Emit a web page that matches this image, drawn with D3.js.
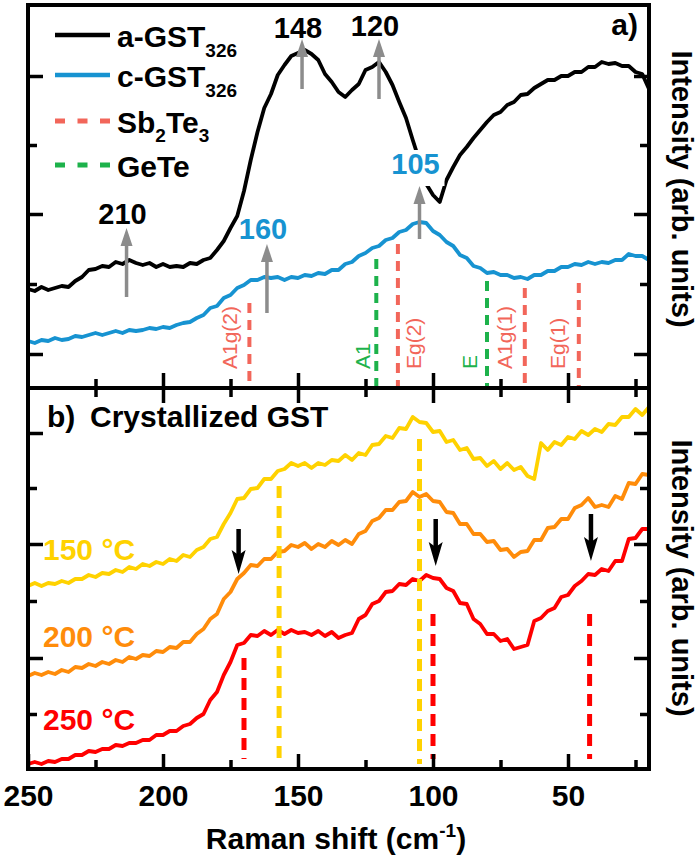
<!DOCTYPE html>
<html><head><meta charset="utf-8">
<script src="https://cdnjs.cloudflare.com/ajax/libs/d3/7.8.5/d3.min.js"></script>
<style>
body{margin:0;background:#fff;}
text{font-family:"Liberation Sans",Arial,sans-serif;}
</style>
</head><body>
<svg id="chart" width="700" height="859"></svg>
<script>
// ---------- DATA ----------
const ramanShift = [250,247.5,245,242.5,240,237.5,235,232.5,230,227.5,225,222.5,220,217.5,215,212.5,210,207.5,205,202.5,
200,197.5,195,192.5,190,187.5,185,182.5,180,177.5,175,172.5,170,167.5,165,162.5,160,157.5,155,152.5,
150,147.5,145,142.5,140,137.5,135,132.5,130,127.5,125,122.5,120,117.5,115,112.5,110,107.5,105,102.5,
100,97.5,95,92.5,90,87.5,85,82.5,80,77.5,75,72.5,70,67.5,65,62.5,60,57.5,55,52.5,
50,47.5,45,42.5,40,37.5,35,32.5,30,27.5,25,22.5,20];

// panel a (arb. units)
const aGST = [99,97,101,98,100,102,101,107,111,118,
119,122,121,126,124,128,125,123,125,121,
124,121,122,121,125,124,128,130,138,147,
160,172,197,228,256,280,294,313,323,332,
335,338,334,328,314,306,296,291,298,304,
318,321,326,316,303,286,270,248,227,204,
193,186,208,221,233,241,250,258,266,273,
276,283,286,293,294,300,304,308,308,312,
312,316,316,321,321,326,324,325,322,322,
316,314,299];
const cGST = [47,45,48,47,50,48,49,52,51,53,
55,53,55,57,55,58,57,58,60,59,
61,60,63,65,66,70,73,80,82,90,
93,100,103,108,108,111,110,111,108,111,
110,113,112,115,114,118,118,124,126,132,
135,140,142,148,150,156,158,164,166,165,
157,153,146,142,133,130,122,120,115,116,
113,113,110,111,109,113,113,117,117,121,
121,124,123,126,124,126,125,128,128,134,
132,132,128];

// panel b (arb. units)
const t150 = [183,186,183,186,185,188,186,190,190,194,
192,196,195,199,197,202,200,205,203,207,
205,210,208,214,212,219,222,230,232,245,
256,270,271,280,281,290,290,298,300,306,
303,306,301,306,304,309,308,314,309,316,
314,324,325,333,331,341,340,352,347,346,
337,338,327,329,319,321,310,311,303,308,
300,306,299,302,293,290,326,319,327,324,
332,330,338,334,340,337,345,344,352,352,
360,354,362];
const t200 = [93,96,94,97,95,99,97,102,101,105,
103,107,105,109,107,112,110,114,113,118,
117,122,121,127,127,135,140,150,155,170,
177,190,196,204,203,210,210,217,218,224,
222,226,220,225,222,228,224,229,225,235,
238,248,251,259,259,267,268,277,272,275,
268,267,257,256,245,245,235,235,227,228,
219,220,212,217,218,229,229,241,242,250,
250,261,264,271,262,264,262,273,270,286,
285,295,294];
const t250 = [5,7,5,8,7,10,10,14,14,18,
17,20,20,24,23,26,26,29,29,34,
34,38,38,43,45,51,55,69,77,94,
107,124,126,134,133,138,134,139,135,139,
136,137,134,138,133,137,131,134,136,150,
154,165,168,177,178,185,184,190,188,194,
191,190,181,178,166,165,150,145,135,135,
128,130,120,122,124,148,151,158,161,172,
174,183,188,195,194,200,198,208,208,230,
231,240,240];

const xMajorTicks = [250,200,150,100,50];
const xMinorTicks = [225,175,125,75,25];
const yATicksMajor = [34,174,312];
const yATicksMinor = [104,243];
const yBTicksMajor = [111,225,336];
const yBTicksMinor = [55,168,281];

// annotations panel a
const peakLabelsA = [
  {label:"148", shift:148.5, base:299, tip:349, textAt:350, color:"black"},
  {label:"120", shift:120,   base:289, tip:349, textAt:352, color:"black"},
  {label:"210", shift:213.5, base:91,  tip:160, textAt:164, color:"black"},
  {label:"160", shift:161.5, base:75,  tip:144, textAt:149, color:"blue"},
  {label:"105", shift:105,   base:149, tip:202, textAt:214, color:"blue"}
];
const modesA = [
  {label:"A1g(2)", shift:168, top:85,  phase:"Sb2Te3", labelShift:172.5},
  {label:"A1",     shift:121, top:129, phase:"GeTe",   labelShift:123.5},
  {label:"Eg(2)",  shift:113, top:144, phase:"Sb2Te3", labelShift:104.3},
  {label:"E",      shift:80,  top:107, phase:"GeTe",   labelShift:83.8},
  {label:"A1g(1)", shift:66,  top:100, phase:"Sb2Te3", labelShift:70.9},
  {label:"Eg(1)",  shift:46,  top:105, phase:"Sb2Te3", labelShift:51.2}
];
// annotations panel b
const modesB = [
  {shift:170, top:111, bottom:10, series:"250"},
  {shift:157, top:283, bottom:5,  series:"150"},
  {shift:105, top:330, bottom:5,  series:"150"},
  {shift:100, top:155, bottom:10, series:"250"},
  {shift:42,  top:155, bottom:10, series:"250"}
];
const arrowsB = [
  {shift:172, base:240, tip:195},
  {shift:99,  base:250, tip:203},
  {shift:41.5,base:255, tip:208}
];
const tempLabels = ["150 °C","200 °C","250 °C"];

// ---------- STYLE ----------
const C = {black:"#000", blue:"#1793d1", red:"#f2665a", green:"#1db24b",
  gray:"#8c8c8c", y150:"#ffd200", y200:"#ff8c0a", y250:"#ff0000"};

const svg = d3.select("#chart");
const L=28, R=649, TOP=5, MID=388, BOT=769;
const x = d3.scaleLinear().domain([250,20]).range([L,R]);
const yA = d3.scaleLinear().domain([0,383]).range([MID,TOP]);
const yB = d3.scaleLinear().domain([0,381]).range([BOT,MID]);

const line = (ys) => d3.line().x((d,i)=>x(ramanShift[i])).y(d=>ys(d));

// ---------- PANEL A ----------
const gA = svg.append("g");
gA.append("path").datum(cGST).attr("d",line(yA)).attr("fill","none")
  .attr("stroke",C.blue).attr("stroke-width",3.8).attr("stroke-linejoin","round");
gA.append("path").datum(aGST).attr("d",line(yA)).attr("fill","none")
  .attr("stroke",C.black).attr("stroke-width",3.8).attr("stroke-linejoin","round");

modesA.forEach(m=>{
  const col = m.phase==="GeTe"?C.green:C.red;
  gA.append("line").attr("x1",x(m.shift)).attr("x2",x(m.shift))
    .attr("y1",yA(m.top)).attr("y2",yA(0)).attr("stroke",col)
    .attr("stroke-width",4).attr("stroke-dasharray","10,7");
  gA.append("text").attr("transform",`translate(${x(m.labelShift)},${yA(19)}) rotate(-90)`)
    .attr("fill",col).attr("font-size",21).text(m.label);
});

function arrow(g, xp, yBase, yTip, col, headLen, headW, shaftW, notch){
  const dir = yTip < yBase ? -1 : 1;
  g.append("line").attr("x1",xp).attr("x2",xp).attr("y1",yBase)
    .attr("y2",yTip - dir*headLen*0.7).attr("stroke",col).attr("stroke-width",shaftW);
  const yb = yTip - dir*headLen;
  g.append("path").attr("d",
    `M${xp},${yTip} L${xp-headW/2},${yb} L${xp},${yb+dir*notch} L${xp+headW/2},${yb} Z`)
    .attr("fill",col);
}

peakLabelsA.forEach(p=>{
  const col = p.color==="blue"?C.blue:C.black;
  if(p.label==="105"){
    gA.append("rect").attr("x",x(p.shift)-31).attr("y",yA(p.textAt)-24)
      .attr("width",56).attr("height",36).attr("fill","#fff");
  }
  arrow(gA, x(p.shift), yA(p.base), yA(p.tip), C.gray, 18, 12, 3.5, 0);
  gA.append("text").attr("x",x(p.shift)-4).attr("y",yA(p.textAt))
    .attr("text-anchor","middle").attr("font-size",29).attr("font-weight","bold")
    .attr("fill",col).text(p.label);
});

gA.append("text").attr("x",638).attr("y",35).attr("text-anchor","end")
  .attr("font-size",30).attr("font-weight","bold").text("a)");

// legend
const leg = [
  {name:"a-GST", sub:"326", col:C.black, dash:null, y:35},
  {name:"c-GST", sub:"326", col:C.blue, dash:null, y:75},
  {name:"Sb2Te3", sub:null, col:C.red, dash:"10,12.5", y:121},
  {name:"GeTe", sub:null, col:C.green, dash:"10,12.5", y:165}
];
leg.forEach(l=>{
  gA.append("line").attr("x1",55).attr("x2",110).attr("y1",l.y).attr("y2",l.y)
    .attr("stroke",l.col).attr("stroke-width",l.dash?5:4.5)
    .attr("stroke-dasharray",l.dash);
  const t = gA.append("text").attr("x",117).attr("y",l.y+12)
    .attr("font-size",30).attr("font-weight","bold").attr("fill","#000");
  if(l.name==="Sb2Te3"){
    t.append("tspan").text("Sb");
    t.append("tspan").attr("font-size",19).attr("dy",9).text("2");
    t.append("tspan").attr("dy",-9).text("Te");
    t.append("tspan").attr("font-size",19).attr("dy",9).text("3");
  } else {
    t.append("tspan").text(l.name);
    if(l.sub) t.append("tspan").attr("font-size",19).attr("dy",10).text(l.sub);
  }
});

// ---------- PANEL B ----------
const gB = svg.append("g");
const seriesB = [{d:t150,c:C.y150},{d:t200,c:C.y200},{d:t250,c:C.y250}];
seriesB.forEach(s=>{
  gB.append("path").datum(s.d).attr("d",line(yB)).attr("fill","none")
    .attr("stroke",s.c).attr("stroke-width",3.8).attr("stroke-linejoin","round");
});
modesB.forEach(m=>{
  gB.append("line").attr("x1",x(m.shift)).attr("x2",x(m.shift))
    .attr("y1",yB(m.top)).attr("y2",yB(m.bottom))
    .attr("stroke",m.series==="150"?C.y150:C.y250).attr("stroke-width",5)
    .attr("stroke-dasharray","12,8");
});
arrowsB.forEach(a=>{
  arrow(gB, x(a.shift), yB(a.base), yB(a.tip), "#000", 24, 14, 4.5, 5);
});
const tempCols=[C.y150,C.y200,C.y250];
const tempY=[560,647,730];
tempLabels.forEach((t,i)=>{
  gB.append("text").attr("x",43).attr("y",tempY[i]).attr("font-size",30)
    .attr("font-weight","bold").attr("fill",tempCols[i]).text(t);
});
gB.append("text").attr("x",47).attr("y",427).attr("font-size",30)
  .attr("font-weight","bold").text("b)");
gB.append("text").attr("x",90).attr("y",427).attr("font-size",30)
  .attr("font-weight","bold").text("Crystallized GST");

// ---------- AXES ----------
function styleAxis(g){
  g.select(".domain").remove();
  g.selectAll(".tick line").attr("stroke","#000").attr("stroke-width",3.5);
  g.selectAll("text").attr("font-size",30).attr("font-weight","bold")
    .attr("font-family","Liberation Sans, Arial, sans-serif").attr("fill","#000");
}
// bottom x-axis of panel b
svg.append("g").attr("transform",`translate(0,${BOT})`)
  .call(d3.axisBottom(x).tickValues(xMajorTicks).tickSize(-15).tickPadding(16).tickFormat(d3.format("d")))
  .call(styleAxis);
svg.append("g").attr("transform",`translate(0,${BOT})`)
  .call(d3.axisBottom(x).tickValues(xMinorTicks).tickSize(-9).tickFormat(""))
  .call(styleAxis);
// panel a bottom (ticks up) and panel b top (ticks down)
svg.append("g").attr("transform",`translate(0,${MID})`)
  .call(d3.axisBottom(x).tickValues(xMajorTicks.slice(1)).tickSize(-15).tickFormat(""))
  .call(styleAxis);
svg.append("g").attr("transform",`translate(0,${MID})`)
  .call(d3.axisBottom(x).tickValues(xMinorTicks).tickSize(-9).tickFormat(""))
  .call(styleAxis);
svg.append("g").attr("transform",`translate(0,${MID})`)
  .call(d3.axisTop(x).tickValues(xMajorTicks.slice(1)).tickSize(-15).tickFormat(""))
  .call(styleAxis);
svg.append("g").attr("transform",`translate(0,${MID})`)
  .call(d3.axisTop(x).tickValues(xMinorTicks).tickSize(-9).tickFormat(""))
  .call(styleAxis);
// y ticks
[[yA,yATicksMajor,15],[yA,yATicksMinor,9],[yB,yBTicksMajor,15],[yB,yBTicksMinor,9]].forEach(([s,tv,sz])=>{
  svg.append("g").attr("transform",`translate(${L},0)`)
    .call(d3.axisLeft(s).tickValues(tv).tickSize(-sz).tickFormat("")).call(styleAxis);
  svg.append("g").attr("transform",`translate(${R},0)`)
    .call(d3.axisRight(s).tickValues(tv).tickSize(-sz).tickFormat("")).call(styleAxis);
});
// frames
svg.append("rect").attr("x",L).attr("y",TOP).attr("width",R-L).attr("height",MID-TOP)
  .attr("fill","none").attr("stroke","#000").attr("stroke-width",4);
svg.append("rect").attr("x",L).attr("y",MID).attr("width",R-L).attr("height",BOT-MID)
  .attr("fill","none").attr("stroke","#000").attr("stroke-width",4);

// titles
const xt = svg.append("text").attr("x",336).attr("y",849).attr("text-anchor","middle")
  .attr("font-size",30).attr("font-weight","bold");
xt.append("tspan").text("Raman shift (cm");
xt.append("tspan").attr("font-size",19).attr("dy",-12).text("-1");
xt.append("tspan").attr("dy",12).text(")");
[189,578].forEach(cy=>{
  svg.append("text").attr("transform",`translate(672,${cy}) rotate(90)`)
    .attr("text-anchor","middle").attr("font-size",29).attr("font-weight","bold")
    .text("Intensity (arb. units)");
});
</script>
</body></html>
